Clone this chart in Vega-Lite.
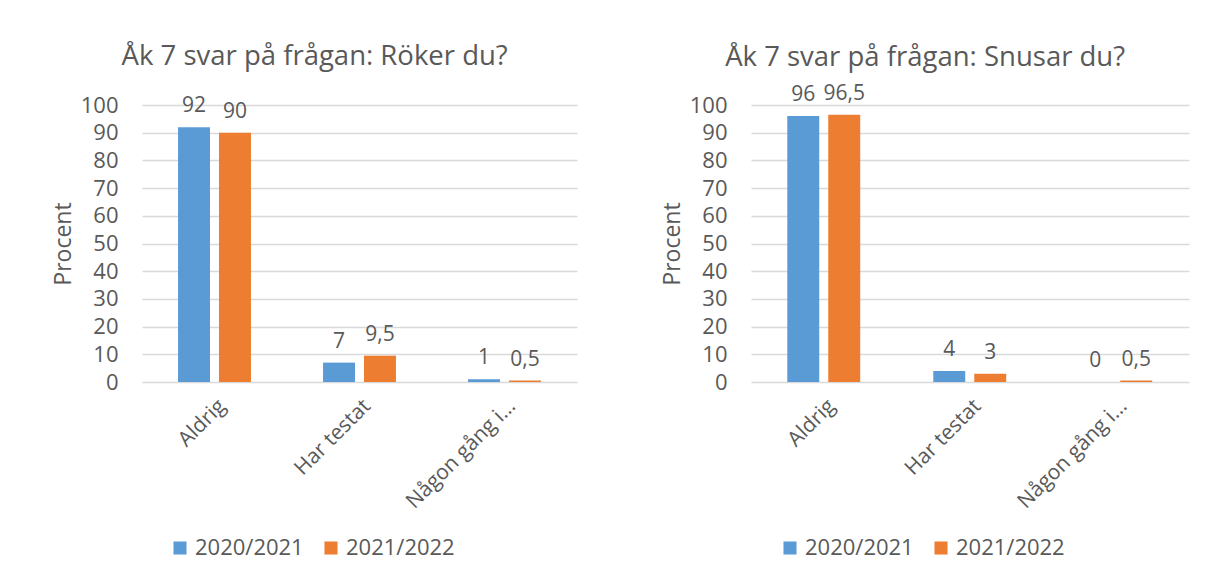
{
  "$schema": "https://vega.github.io/schema/vega-lite/v6.json",
  "padding": {"left": 52, "top": 42, "right": 5, "bottom": 5},
  "spacing": 84,
  "config": {
    "font": "Open Sans",
    "locale": {"number": {"decimal": ",", "thousands": " ", "grouping": [3], "currency": ["", " kr"]}},
    "view": {"stroke": null},
    "title": {"fontSize": 27.5, "fontWeight": "normal", "color": "#595959", "font": "Open Sans", "anchor": "middle", "frame": "bounds"},
    "axis": {"labelFont": "Open Sans", "labelColor": "#595959", "titleColor": "#595959", "titleFont": "Open Sans", "titleFontWeight": "normal", "ticks": false, "domain": false},
    "legend": {"labelFont": "Open Sans", "labelColor": "#595959", "labelFontSize": 22}
  },
  "resolve": {"legend": {"color": "independent"}},
  "hconcat": [
    {
      "title": {"text": "Åk 7 svar på frågan: Röker du?", "offset": 24},
      "width": 435,
      "height": 277,
      "data": {"values": [
        {"svar": "Aldrig", "year": "2020/2021", "procent": 92},
        {"svar": "Aldrig", "year": "2021/2022", "procent": 90},
        {"svar": "Har testat", "year": "2020/2021", "procent": 7},
        {"svar": "Har testat", "year": "2021/2022", "procent": 9.5},
        {"svar": "Någon gång i…", "year": "2020/2021", "procent": 1},
        {"svar": "Någon gång i…", "year": "2021/2022", "procent": 0.5}
      ]},
      "encoding": {
        "x": {"field": "svar", "type": "nominal", "sort": ["Aldrig", "Har testat", "Någon gång i…"], "title": null,
              "scale": {"paddingInner": 0.497, "paddingOuter": 0.2485},
              "axis": {"labelAngle": -45, "labelFontSize": 21, "labelPadding": 13, "grid": false}},
        "xOffset": {"field": "year", "type": "nominal", "scale": {"paddingInner": 0.22, "paddingOuter": 0}},
        "y": {"field": "procent", "type": "quantitative", "scale": {"domain": [0, 100]}, "title": "Procent",
              "axis": {"values": [0, 10, 20, 30, 40, 50, 60, 70, 80, 90, 100], "grid": true, "gridColor": "#D9D9D9", "gridWidth": 1.6, "labelFontSize": 22, "labelPadding": 24, "titleFontSize": 23, "titlePadding": 5}}
      },
      "layer": [
        {"mark": {"type": "bar"},
         "encoding": {"color": {"field": "year", "type": "nominal", "scale": {"range": ["#5B9BD5", "#ED7D31"]},
           "legend": {"title": null, "orient": "none", "legendX": 27, "legendY": 432, "direction": "horizontal", "symbolType": "square", "symbolSize": 170, "symbolStrokeWidth": 0, "columnPadding": 16}}}},
        {"mark": {"type": "text", "baseline": "alphabetic", "dy": -15, "fontSize": 21, "color": "#595959"},
         "encoding": {"text": {"field": "procent", "type": "quantitative", "format": ".1~f"}}}
      ]
    },
    {
      "title": {"text": "Åk 7 svar på frågan: Snusar du?", "offset": 11},
      "width": 438,
      "height": 277,
      "data": {"values": [
        {"svar": "Aldrig", "year": "2020/2021", "procent": 96},
        {"svar": "Aldrig", "year": "2021/2022", "procent": 96.5},
        {"svar": "Har testat", "year": "2020/2021", "procent": 4},
        {"svar": "Har testat", "year": "2021/2022", "procent": 3},
        {"svar": "Någon gång i…", "year": "2020/2021", "procent": 0},
        {"svar": "Någon gång i…", "year": "2021/2022", "procent": 0.5}
      ]},
      "encoding": {
        "x": {"field": "svar", "type": "nominal", "sort": ["Aldrig", "Har testat", "Någon gång i…"], "title": null,
              "scale": {"paddingInner": 0.497, "paddingOuter": 0.2485},
              "axis": {"labelAngle": -45, "labelFontSize": 21, "labelPadding": 13, "grid": false}},
        "xOffset": {"field": "year", "type": "nominal", "scale": {"paddingInner": 0.22, "paddingOuter": 0}},
        "y": {"field": "procent", "type": "quantitative", "scale": {"domain": [0, 100]}, "title": "Procent",
              "axis": {"values": [0, 10, 20, 30, 40, 50, 60, 70, 80, 90, 100], "grid": true, "gridColor": "#D9D9D9", "gridWidth": 1.6, "labelFontSize": 22, "labelPadding": 24, "titleFontSize": 23, "titlePadding": 5}}
      },
      "layer": [
        {"mark": {"type": "bar"},
         "encoding": {"color": {"field": "year", "type": "nominal", "scale": {"range": ["#5B9BD5", "#ED7D31"]},
           "legend": {"title": null, "orient": "none", "legendX": 28, "legendY": 432, "direction": "horizontal", "symbolType": "square", "symbolSize": 170, "symbolStrokeWidth": 0, "columnPadding": 16}}}},
        {"mark": {"type": "text", "baseline": "alphabetic", "dy": -15, "fontSize": 21, "color": "#595959"},
         "encoding": {"text": {"field": "procent", "type": "quantitative", "format": ".1~f"}}}
      ]
    }
  ]
}
